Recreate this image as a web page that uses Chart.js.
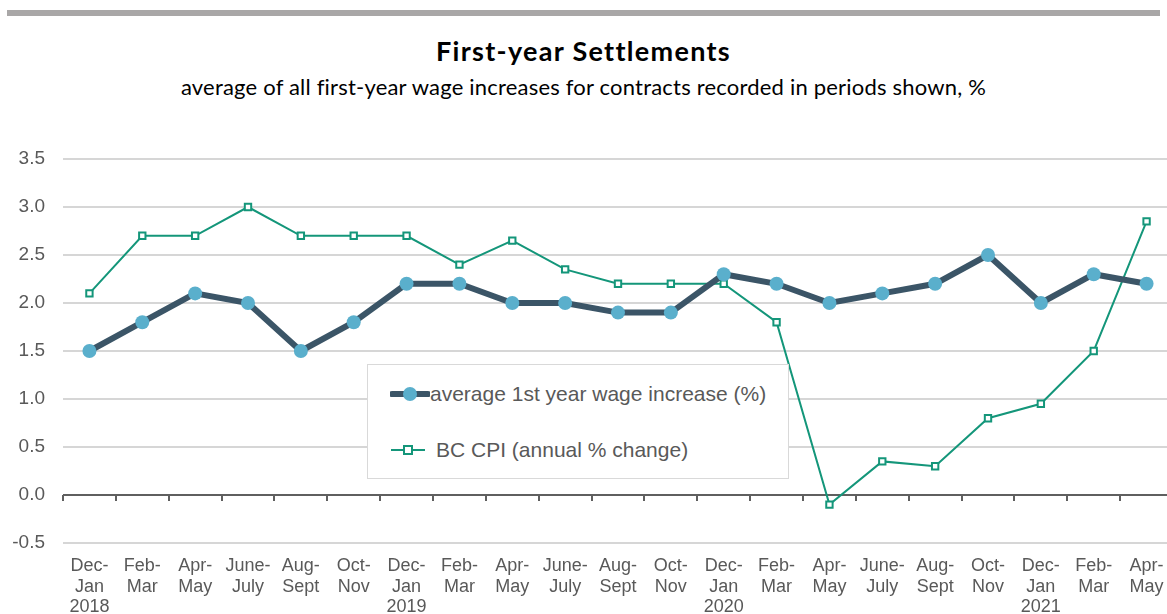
<!DOCTYPE html>
<html>
<head>
<meta charset="utf-8">
<script src="https://cdn.jsdelivr.net/npm/chart.js@4.4.1/dist/chart.umd.min.js"></script>
<style>
  html, body { margin: 0; padding: 0; background: #fff; overflow: hidden; }
  body { width: 1167px; height: 614px; position: relative; }
  .topbar { position: absolute; left: 7px; top: 10px; width: 1153px; height: 6px; background: #a9a7a7; }
  .title { position: absolute; left: 0; width: 1167px; text-align: center; font-family: Lato, "Open Sans", sans-serif; color: #000; line-height: 1.2; white-space: nowrap; }
  #t1 { top: 35px; font-size: 27px; font-weight: bold; letter-spacing: 1.3px; }
  #t2 { top: 74px; font-size: 22px; letter-spacing: 0.2px; }
  #wrap { position: absolute; left: 0; top: 0; width: 1180px; height: 614px; }
  .legend { position: absolute; left: 367px; top: 364px; width: 420px; height: 113px; background: #fff;
            border: 1px solid #d9d9d9; font-family: "Liberation Sans", Arial, sans-serif; font-size: 21px; color: #595959; }
  .legend .row { position: absolute; left: 0; height: 24px; display: flex; align-items: center; }
  .legend svg { display: block; }
</style>
</head>
<body>
<div class="topbar"></div>
<div class="title" id="t1">First-year Settlements</div>
<div class="title" id="t2">average of all first-year wage increases for contracts recorded in periods shown, %</div>
<div id="wrap"><canvas id="mainChart" width="1180" height="614"></canvas></div>
<div class="legend">
  <div class="row" style="top:17px;left:22px">
    <svg width="40" height="20"><line x1="2" y1="10" x2="38" y2="10" stroke="#3b5567" stroke-width="6" stroke-linecap="round"/><circle cx="20" cy="10" r="7" fill="#5aafcc"/></svg>
    <span>average 1st year wage increase (%)</span>
  </div>
  <div class="row" style="top:73px;left:23px">
    <svg width="36" height="20"><line x1="0" y1="10" x2="34" y2="10" stroke="#14967a" stroke-width="2"/><rect x="13" y="6" width="8" height="8" fill="#fff" stroke="#14967a" stroke-width="2"/></svg>
    <span style="margin-left:9px">BC CPI (annual % change)</span>
  </div>
</div>
<script>
// Data
const periods = [
  ['Dec-','Jan','2018'], ['Feb-','Mar'], ['Apr-','May'], ['June-','July'], ['Aug-','Sept'], ['Oct-','Nov'],
  ['Dec-','Jan','2019'], ['Feb-','Mar'], ['Apr-','May'], ['June-','July'], ['Aug-','Sept'], ['Oct-','Nov'],
  ['Dec-','Jan','2020'], ['Feb-','Mar'], ['Apr-','May'], ['June-','July'], ['Aug-','Sept'], ['Oct-','Nov'],
  ['Dec-','Jan','2021'], ['Feb-','Mar'], ['Apr-','May']
];
const wageIncrease = [1.5, 1.8, 2.1, 2.0, 1.5, 1.8, 2.2, 2.2, 2.0, 2.0, 1.9, 1.9, 2.3, 2.2, 2.0, 2.1, 2.2, 2.5, 2.0, 2.3, 2.2];
const bcCpi = [2.1, 2.7, 2.7, 3.0, 2.7, 2.7, 2.7, 2.4, 2.65, 2.35, 2.2, 2.2, 2.2, 1.8, -0.1, 0.35, 0.3, 0.8, 0.95, 1.5, 2.85];
const yTicks = [-0.5, 0.0, 0.5, 1.0, 1.5, 2.0, 2.5, 3.0, 3.5];

// zero line with category tick marks
const zeroAxis = {
  id: 'zeroAxis',
  beforeDatasetsDraw(chart) {
    const { ctx, chartArea, scales: { y } } = chart;
    const y0 = y.getPixelForValue(0);
    const step = (chartArea.right - chartArea.left) / periods.length;
    ctx.save();
    ctx.strokeStyle = '#5f5f5f';
    ctx.lineWidth = 2;
    ctx.beginPath();
    ctx.moveTo(chartArea.left, y0);
    ctx.lineTo(chartArea.right, y0);
    for (let i = 0; i <= periods.length; i++) {
      const px = Math.round(chartArea.left + i * step);
      ctx.moveTo(px, y0);
      ctx.lineTo(px, y0 + 6);
    }
    ctx.stroke();
    ctx.restore();
  }
};

const ctx = document.getElementById('mainChart').getContext('2d');
new Chart(ctx, {
  type: 'line',
  data: {
    labels: periods,
    datasets: [{
      label: 'average 1st year wage increase (%)',
      data: wageIncrease,
      borderColor: '#3b5567',
      borderWidth: 6,
      pointBackgroundColor: '#5aafcc',
      pointBorderColor: '#5aafcc',
      pointRadius: 7,
      pointBorderWidth: 0,
      tension: 0,
      order: 1
    }, {
      label: 'BC CPI (annual % change)',
      data: bcCpi,
      borderColor: '#14967a',
      borderWidth: 2,
      pointStyle: 'rect',
      pointRadius: 4.5,
      pointBorderWidth: 2,
      pointBackgroundColor: '#fff',
      pointBorderColor: '#14967a',
      tension: 0,
      order: 2
    }]
  },
  options: {
    responsive: false,
    animation: false,
    layout: { padding: { top: 159, right: 5, left: 0, bottom: 0 } },
    plugins: { legend: { display: false }, tooltip: { enabled: false } },
    scales: {
      x: {
        offset: true,
        grid: { display: false },
        border: { display: false },
        ticks: {
          autoSkip: false, maxRotation: 0, padding: 5, color: '#595959',
          font: { family: '"Liberation Sans", Arial, sans-serif', size: 18, lineHeight: 1.14 }
        },
        afterFit: s => { s.height = 71; }
      },
      y: {
        min: -0.5, max: 3.5,
        afterBuildTicks: s => { s.ticks = yTicks.map(v => ({ value: v })); },
        grid: {
          drawTicks: false,
          color: c => c.tick && c.tick.value === 0 ? 'rgba(0,0,0,0)' : '#d6d6d6',
          lineWidth: 2
        },
        border: { display: false },
        ticks: {
          padding: 18, color: '#595959',
          font: { family: '"Liberation Sans", Arial, sans-serif', size: 19 },
          callback: v => v.toFixed(1)
        },
        afterFit: s => { s.width = 63; }
      }
    }
  },
  plugins: [zeroAxis]
});
</script>
</body>
</html>
